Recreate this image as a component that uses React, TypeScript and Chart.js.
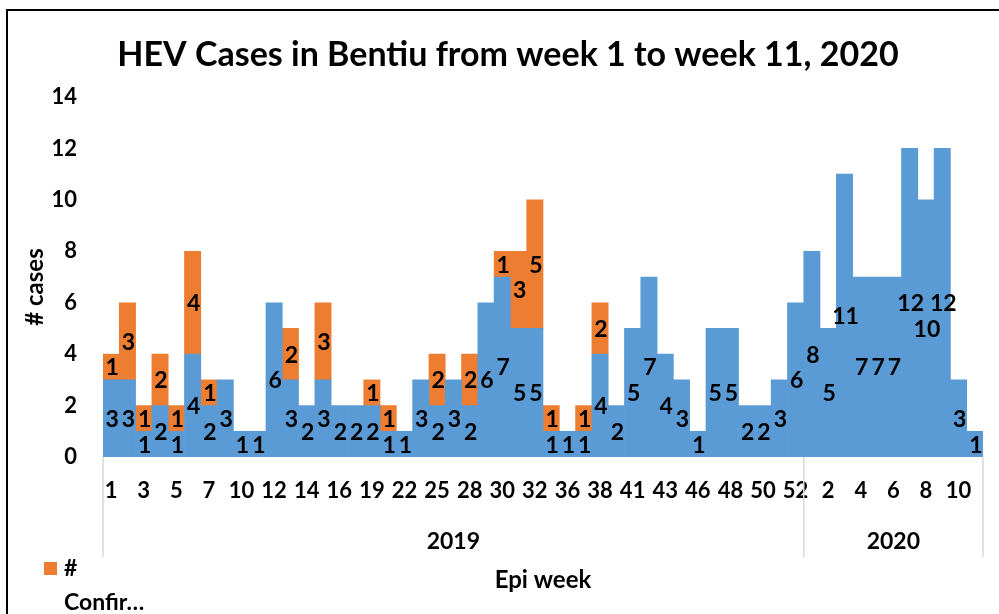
import React, { useEffect, useRef } from "react";
import { Chart, registerables } from "chart.js";

Chart.register(...registerables);

// Week numbers (category labels), 2019 then 2020
const weeks2019 = [1, 2, 3, 4, 5, 6, 7, 8, 10, 11, 12, 13, 14, 15, 16, 17, 19, 20, 22, 23, 25, 26, 28, 29, 30, 31, 32, 34, 36, 37, 38, 39, 41, 42, 43, 44, 46, 47, 48, 49, 50, 51, 52];
const weeks2020 = [1, 2, 3, 4, 5, 6, 7, 8, 9, 10, 11];
const years = ["2019", "2020"];

// Suspected / non-confirmed cases (blue)
const casesSuspected = [
  3, 3, 1, 2, 1, 4, 2, 3, 1, 1, 6, 3, 2, 3, 2, 2, 2, 1, 1, 3, 2, 3, 2, 6, 7, 5, 5, 1, 1, 1, 4, 2, 5, 7, 4, 3, 1, 5, 5, 2, 2, 3, 6,
  8, 5, 11, 7, 7, 7, 12, 10, 12, 3, 1,
];
// Confirmed cases (orange)
const casesConfirmed = [
  1, 3, 1, 2, 1, 4, 1, 0, 0, 0, 0, 2, 0, 3, 0, 0, 1, 1, 0, 0, 2, 0, 2, 0, 1, 3, 5, 1, 0, 1, 2, 0, 0, 0, 0, 0, 0, 0, 0, 0, 0, 0, 0,
  0, 0, 0, 0, 0, 0, 0, 0, 0, 0, 0,
];

const BLUE = "#5B9BD5";
const ORANGE = "#ED7D31";
const FONT = "Lato, 'Open Sans', sans-serif";

export default function App() {
  const ref = useRef<HTMLCanvasElement>(null);

  useEffect(() => {
    const canvas = ref.current;
    if (!canvas) return;
    const labels = [...weeks2019.map(String), ...weeks2020.map(String)];

    const overlay = {
      id: "overlay",
      afterDatasetsDraw(chart: any) {
        const ctx = chart.ctx;
        ctx.save();
        ctx.fillStyle = "#000";
        ctx.font = `bold 23px ${FONT}`;
        ctx.textAlign = "center";
        ctx.textBaseline = "middle";
        chart.data.datasets.forEach((ds: any, di: number) => {
          const meta = chart.getDatasetMeta(di);
          meta.data.forEach((bar: any, i: number) => {
            const v = ds.data[i];
            if (!v) return;
            const y = (bar.y + bar.base) / 2;
            ctx.fillText(String(v), bar.x + 1, y + 1);
          });
        });
        ctx.restore();
      },
      afterDraw(chart: any) {
        const ctx = chart.ctx;
        const xs = chart.scales.x;
        const area = chart.chartArea;
        const n = weeks2019.length;
        const half = (xs.getPixelForValue(1) - xs.getPixelForValue(0)) / 2;
        const x0 = xs.getPixelForValue(0) - half;
        const xSplit = xs.getPixelForValue(n) - half;
        const xEnd = xs.getPixelForValue(labels.length - 1) + half;
        ctx.save();
        // separators
        ctx.strokeStyle = "#D9D9D9";
        ctx.lineWidth = 1.5;
        [x0, xSplit, xEnd].forEach((x) => {
          ctx.beginPath();
          ctx.moveTo(x, area.bottom);
          ctx.lineTo(x, 557);
          ctx.stroke();
        });
        ctx.fillStyle = "#000";
        ctx.textAlign = "center";
        ctx.textBaseline = "middle";
        ctx.font = `bold 23px ${FONT}`;
        ctx.fillText(years[0], (x0 + xSplit) / 2, 542);
        ctx.fillText(years[1], (xSplit + xEnd) / 2, 542);
        // axis titles
        ctx.font = `bold 24px ${FONT}`;
        ctx.fillText("Epi week", 543, 580);
        ctx.save();
        ctx.translate(35, 287);
        ctx.rotate(-Math.PI / 2);
        ctx.fillText("# cases", 0, 0);
        ctx.restore();
        // title
        ctx.font = `bold 34px ${FONT}`;
        ctx.fillText("HEV Cases in Bentiu from week 1 to week 11, 2020", 508, 55);
        // legend
        ctx.fillStyle = ORANGE;
        ctx.fillRect(44, 562, 13, 13);
        ctx.fillStyle = "#000";
        ctx.textAlign = "left";
        ctx.font = `bold 23px ${FONT}`;
        ctx.fillText("#", 64, 569);
        ctx.fillText("Confir…", 64, 603);
        // border
        ctx.strokeStyle = "#000";
        ctx.lineWidth = 2;
        ctx.beginPath();
        ctx.moveTo(7, 620);
        ctx.lineTo(7, 10);
        ctx.lineTo(1005, 10);
        ctx.stroke();
        ctx.restore();
      },
    };

    const chart = new Chart(canvas, {
      type: "bar",
      data: {
        labels,
        datasets: [
          {
            label: "# Suspected",
            data: casesSuspected,
            backgroundColor: BLUE,
            borderWidth: 0,
            categoryPercentage: 1,
            barPercentage: 1,
          },
          {
            label: "# Confirmed",
            data: casesConfirmed.map((v) => (v ? v : null)),
            backgroundColor: ORANGE,
            borderWidth: 0,
            categoryPercentage: 1,
            barPercentage: 1,
          },
        ],
      },
      options: {
        responsive: false,
        animation: false,
        layout: { padding: { left: 0, top: 97, right: 16, bottom: 0 } },
        plugins: { legend: { display: false }, title: { display: false }, tooltip: { enabled: false } },
        scales: {
          x: {
            stacked: true,
            grid: { display: false, drawTicks: false },
            border: { display: false },
            ticks: {
              autoSkip: false,
              maxRotation: 0,
              minRotation: 0,
              color: "#000",
              font: { family: FONT, size: 22, weight: "bold" },
              padding: 21,
              callback: (_v: any, i: number) => (i % 2 === 0 ? labels[i] : ""),
            },
            afterFit: (s: any) => {
              s.height = 157;
            },
          },
          y: {
            stacked: true,
            min: 0,
            max: 14,
            grid: { display: false, drawTicks: false },
            border: { display: false },
            ticks: {
              stepSize: 2,
              color: "#000",
              font: { family: FONT, size: 22, weight: "bold" },
              padding: 26,
            },
            afterFit: (s: any) => {
              s.width = 103;
            },
          },
        },
      },
      plugins: [overlay],
    });
    return () => chart.destroy();
  }, []);

  return (
    <div style={{ position: "absolute", left: 0, top: 0, width: 999, height: 614, background: "#fff" }}>
      <canvas ref={ref} width={999} height={614} />
    </div>
  );
}
